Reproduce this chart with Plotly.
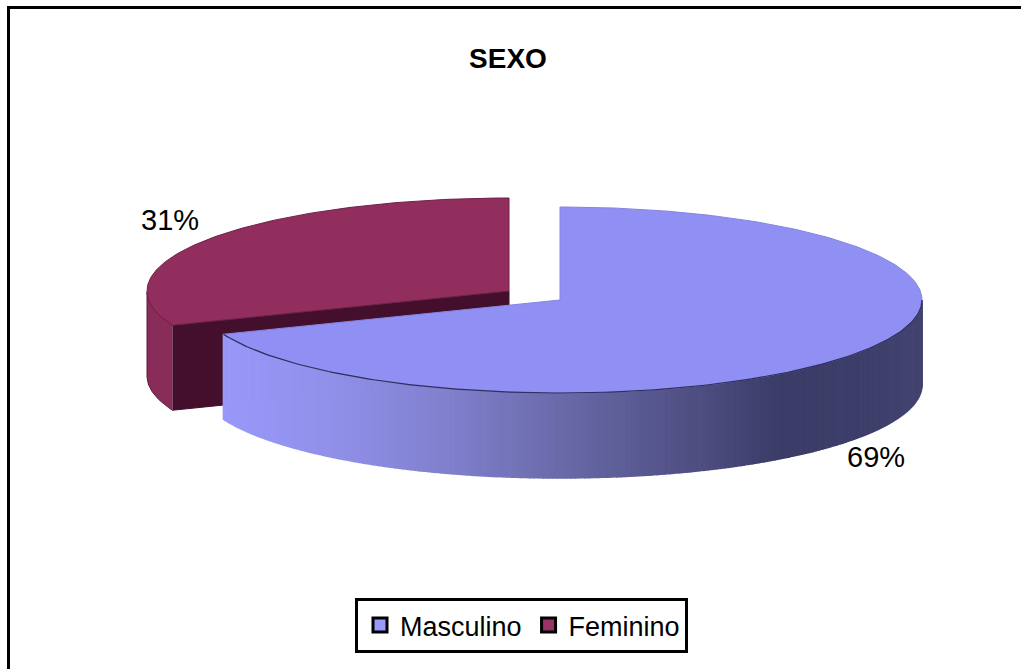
import numpy as np
import plotly.graph_objects as go

categories = ["Masculino", "Feminino"]
values = [69, 31]
title_text = "SEXO"

TOP = {"Masculino": "#9090F4", "Feminino": "#912E5E"}
SWATCH = {"Masculino": "#9999FF", "Feminino": "#993366"}
CUT_FACE = "#430F2C"
FEM_SIDE = "#8A2C5A"
FONT = "Liberation Sans, Arial, sans-serif"

# projection of the pie disc onto the page
RX, RY, DEPTH = 362, 93, 85
CENTRES = {"Masculino": (560, 300), "Feminino": (509, 291)}

# horizontal shading of the front rim of the Masculino slice
SHADE_X = [223, 330, 450, 560, 680, 780, 860, 922]
SHADE_R = [153, 145, 128, 106, 82, 60, 62, 68]
SHADE_G = [153, 145, 128, 106, 82, 60, 62, 68]
SHADE_B = [250, 235, 205, 170, 135, 104, 106, 112]


def pt(c, ang):
    return c[0] + RX * np.sin(ang), c[1] - RY * np.cos(ang)


total = sum(values)
a_split = 2 * np.pi * values[0] / total

fig = go.Figure()


def poly(xs, ys, color, line=None, width=1):
    fig.add_trace(go.Scatter(
        x=list(xs), y=list(ys), mode="lines", fill="toself", fillcolor=color,
        line=dict(color=line or color, width=width), hoverinfo="skip", showlegend=False))


# Feminino: outer rim, cut face, top
cf = CENTRES["Feminino"]
angs = np.linspace(a_split, 2 * np.pi, 140)
rim = angs[angs <= 3 * np.pi / 2 + 1e-9]
rx, ry = pt(cf, rim)
poly(np.r_[rx, rx[::-1]], np.r_[ry, ry[::-1] + DEPTH], FEM_SIDE, "#5a1a3a")
ex, ey = pt(cf, a_split)
poly([ex, cf[0], cf[0], ex], [ey, cf[1], cf[1] + DEPTH, ey + DEPTH], CUT_FACE)
tx, ty = pt(cf, angs)
poly(np.r_[cf[0], tx, cf[0]], np.r_[cf[1], ty, cf[1]], TOP["Feminino"], "#6e2148")

# Masculino: shaded front rim, then top
cm = CENTRES["Masculino"]
edges = np.linspace(np.pi / 2, a_split, 220)
for a0, a1 in zip(edges[:-1], edges[1:]):
    seg = np.linspace(a0, a1, 3)
    sx, sy = pt(cm, seg)
    mid = (sx[0] + sx[-1]) / 2
    col = "rgb(%d,%d,%d)" % (np.interp(mid, SHADE_X, SHADE_R),
                             np.interp(mid, SHADE_X, SHADE_G),
                             np.interp(mid, SHADE_X, SHADE_B))
    poly(np.r_[sx, sx[::-1]], np.r_[sy, sy[::-1] + DEPTH], col, col, 1.5)
angs = np.linspace(0, a_split, 300)
tx, ty = pt(cm, angs)
poly(np.r_[cm[0], tx, cm[0]], np.r_[cm[1], ty, cm[1]], TOP["Masculino"], "#8484E0")
fx, fy = pt(cm, np.linspace(np.pi / 2, a_split, 200))
fig.add_trace(go.Scatter(x=fx, y=fy, mode="lines", line=dict(color="#2f2f5c", width=1.2),
                         hoverinfo="skip", showlegend=False))

# legend entries
for cat in categories:
    fig.add_trace(go.Scatter(
        x=[None], y=[None], mode="markers", name=cat,
        marker=dict(symbol="square", size=14, color=SWATCH[cat], line=dict(color="#000000", width=3))))

# percent labels
LABEL_POS = {"Masculino": (876, 457), "Feminino": (170, 220)}
for cat, v in zip(categories, values):
    x, y = LABEL_POS[cat]
    fig.add_annotation(x=x, y=y, text=f"{v}%", showarrow=False,
                       font=dict(family=FONT, size=29, color="#000000"))

# chart frame: top and left edges only
fig.add_shape(type="line", x0=7, x1=1021, y0=7.5, y1=7.5, line=dict(color="#000000", width=3))
fig.add_shape(type="line", x0=8.5, x1=8.5, y0=6, y1=669, line=dict(color="#000000", width=3))

fig.update_layout(
    width=1021, height=669, margin=dict(l=0, r=0, t=0, b=0),
    paper_bgcolor="#FFFFFF", plot_bgcolor="#FFFFFF",
    title=dict(text=f"<b>{title_text}</b>", x=508 / 1021, xanchor="center",
               y=1 - 58 / 669, yanchor="middle",
               font=dict(family=FONT, size=28, color="#000000")),
    xaxis=dict(range=[0, 1021], visible=False, fixedrange=True),
    yaxis=dict(range=[669, 0], visible=False, fixedrange=True),
    showlegend=True,
    legend=dict(orientation="h", x=355 / 1021, y=1 - 598 / 669, xanchor="left", yanchor="top",
                bgcolor="#FFFFFF", bordercolor="#000000", borderwidth=3, indentation=2,
                font=dict(family=FONT, size=27, color="#000000"),
                itemsizing="trace"),
)

fig.write_html("out.html", config={"displayModeBar": False},
               post_script="document.body.style.margin='0';document.body.style.overflow='hidden';")
